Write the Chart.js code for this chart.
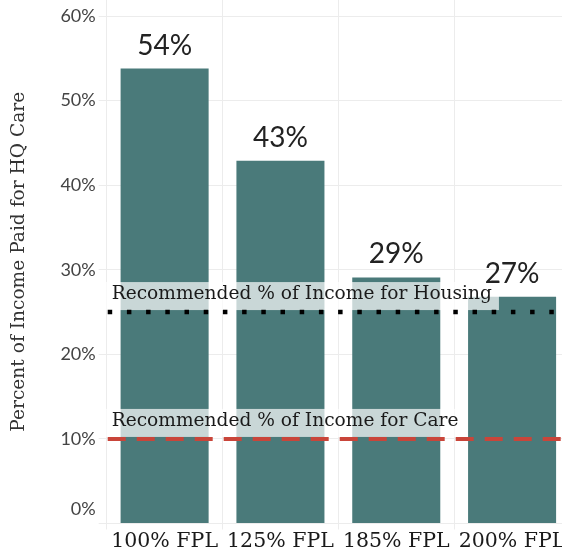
<!DOCTYPE html>
<html>
<head>
<meta charset="utf-8">
<script src="https://cdn.jsdelivr.net/npm/chart.js@4.4.0/dist/chart.umd.min.js"></script>
<style>
  html, body { margin: 0; padding: 0; overflow: hidden; background: #fff; }
  #wrap { width: 570px; height: 552px; }
</style>
</head>
<body>
<div id="wrap"><canvas id="chart" width="570" height="552"></canvas></div>
<script>
// Chart data
const categories = ['100% FPL', '125% FPL', '185% FPL', '200% FPL'];
const shares = [53.8, 42.9, 29.1, 26.8];
const yTicks = [0, 10, 20, 30, 40, 50, 60];
const refValues = [25, 10];
const refLabels = ['Recommended % of Income for Housing', 'Recommended % of Income for Care'];

const barColor = '#4a7a7a';
const serif = '"DejaVu Serif", serif';
const sans = 'Lato, sans-serif';

// Reference lines + their labels, drawn on top of bars
const refPlugin = {
  id: 'refs',
  afterDatasetsDraw(chart) {
    const ctx = chart.ctx;
    const x = chart.scales.x, y = chart.scales.y;
    const left = x.left, right = x.right;
    const styles = [
      { color: '#000', width: 4.5, dash: [4.5, 14.7] },
      { color: '#c9453a', width: 4, dash: [18, 11] }
    ];
    refValues.forEach((v, i) => {
      const py = y.getPixelForValue(v);
      const s = styles[i];
      // label with translucent white box
      ctx.save();
      ctx.font = '18.6px ' + serif;
      const tw = ctx.measureText(refLabels[i]).width;
      const tx = left + 5;
      ctx.fillStyle = 'rgba(255,255,255,0.7)';
      ctx.fillRect(tx - 6, py - 30, tw + 13, 28);
      ctx.fillStyle = '#1a1a1a';
      ctx.textBaseline = 'middle';
      ctx.fillText(refLabels[i], tx, py - 18);
      ctx.restore();
      // line
      ctx.save();
      ctx.strokeStyle = s.color;
      ctx.lineWidth = s.width;
      ctx.setLineDash(s.dash);
      ctx.lineCap = 'butt';
      ctx.beginPath();
      ctx.moveTo(left + 1, py);
      ctx.lineTo(right, py);
      ctx.stroke();
      ctx.restore();
    });
  }
};

// Value labels above each bar
const valuePlugin = {
  id: 'values',
  afterDraw(chart) {
    const ctx = chart.ctx;
    const meta = chart.getDatasetMeta(0);
    ctx.save();
    ctx.font = '28px ' + sans;
    ctx.fillStyle = '#222';
    ctx.textAlign = 'center';
    ctx.textBaseline = 'middle';
    meta.data.forEach((bar, i) => {
      ctx.fillText(Math.round(shares[i]) + '%', bar.x, bar.y - 23);
    });
    ctx.restore();
  }
};

new Chart(document.getElementById('chart'), {
  type: 'bar',
  data: {
    labels: categories,
    datasets: [{
      data: shares,
      backgroundColor: barColor,
      barPercentage: 0.76,
      categoryPercentage: 1
    }]
  },
  options: {
    responsive: false,
    animation: false,
    layout: { padding: 0 },
    plugins: { legend: { display: false }, tooltip: { enabled: false } },
    scales: {
      x: {
        offset: true,
        grid: { offset: true, color: '#ececec', tickLength: 6, drawTicks: true },
        border: { display: false },
        ticks: { color: '#1a1a1a', font: { family: serif, size: 20.5 }, padding: 0, maxRotation: 0 },
        afterFit(scale) { scale.height = 28.5; scale.paddingLeft = 0; scale.paddingRight = 0; }
      },
      y: {
        min: 0,
        max: 61.9,
        grid: { color: '#ececec', tickLength: 8 },
        border: { display: false },
        afterBuildTicks(scale) { scale.ticks = yTicks.map(v => ({ value: v })); },
        ticks: {
          color: '#444',
          padding: 3,
          font: { family: sans, size: 18, lineHeight: 1.6 },
          callback: v => v === 0 ? ['0%', ''] : v + '%'
        },
        title: {
          display: true,
          text: 'Percent of Income Paid for HQ Care',
          color: '#333',
          font: { family: serif, size: 18.6 },
          padding: { top: 8, bottom: 0 }
        },
        afterFit(scale) { scale.width = 106.7; scale.paddingTop = 0; scale.paddingBottom = 0; }
      }
    }
  },
  plugins: [refPlugin, valuePlugin]
});
</script>
</body>
</html>
